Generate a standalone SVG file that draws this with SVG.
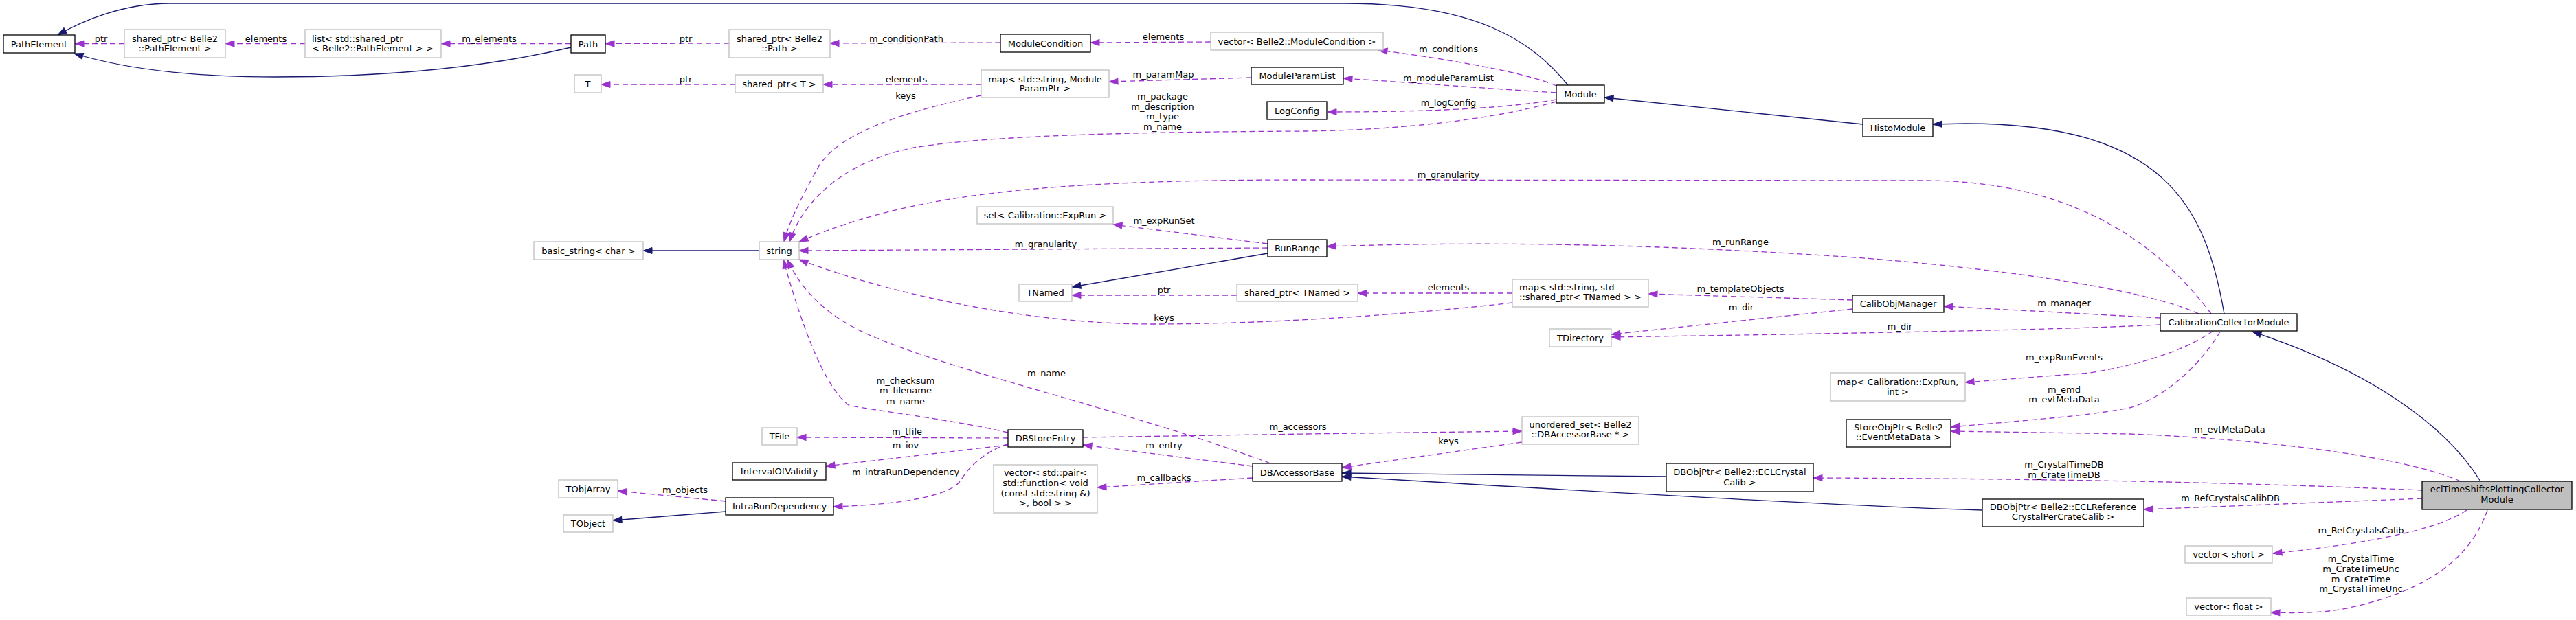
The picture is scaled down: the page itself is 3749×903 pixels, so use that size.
<svg xmlns="http://www.w3.org/2000/svg" width="3749" height="903" viewBox="0 0 3749 903">
<style>
.n rect{fill:#fff;stroke:#000;stroke-width:1.3}
.u rect{stroke:#bfbfbf}
.f rect{fill:#bfbfbf}
text{font-family:"DejaVu Sans","Liberation Sans",sans-serif;font-size:13px;fill:#000;text-anchor:middle}
text.l{text-anchor:start}
.e{fill:none;stroke:#9a32cd;stroke-width:1.3;stroke-dasharray:8,5;marker-end:url(#ap)}
.i{fill:none;stroke:#191970;stroke-width:1.3;marker-end:url(#ab)}
</style>
<defs>
<marker id="ap" markerUnits="userSpaceOnUse" markerWidth="15" markerHeight="11" refX="13" refY="4.5" orient="auto" overflow="visible"><path d="M0,0 L13,4.5 L0,9 z" fill="#9a32cd" stroke="#9a32cd" stroke-width="1" stroke-dasharray="none"/></marker>
<marker id="ab" markerUnits="userSpaceOnUse" markerWidth="15" markerHeight="11" refX="13" refY="4.5" orient="auto" overflow="visible"><path d="M0,0 L13,4.5 L0,9 z" fill="#191970" stroke="#191970" stroke-width="1" stroke-dasharray="none"/></marker>
</defs>
<rect width="3749" height="903" fill="#fff"/>
<g id="connectors">
<path class="e" d="M181,63.5 L109,63.5"/>
<path class="e" d="M444,63.5 L328,63.5"/>
<path class="e" d="M831,63.5 L642,63.5"/>
<path class="e" d="M1061,63 L881,63.5"/>
<path class="e" d="M1456,62 L1208,63"/>
<path class="e" d="M1762,61 L1587,62"/>
<path class="e" d="M2265,125 C2220,105 2100,85 2006,73"/>
<path class="e" d="M2265,135 C2150,128 2050,120 1955,114"/>
<path class="e" d="M2265,145 C2180,160 2050,163 1932,163"/>
<path class="e" d="M2265,148 C2150,180 2000,190 1900,191 C1700,192 1450,195 1330,215 C1230,235 1170,290 1149,352"/>
<path class="e" d="M1428,139 C1330,160 1220,190 1190,245 C1165,290 1150,320 1141,352"/>
<path class="e" d="M1070,123 L875,123"/>
<path class="e" d="M1428,123 L1198,123"/>
<path class="e" d="M1821,113 L1614,119"/>
<path class="e" d="M3218,457 C3130,340 3000,263 2800,263 L1900,262 C1500,262 1320,285 1163,352"/>
<path class="e" d="M3200,457 C3120,420 2900,390 2700,375 C2450,358 2200,350 1931,359"/>
<path class="e" d="M1845,355 L1620,327"/>
<path class="e" d="M1845,361 L1163,365"/>
<path class="e" d="M1800,430 L1560,430"/>
<path class="e" d="M2201,427 L1976,427"/>
<path class="e" d="M2201,441 C2050,458 1850,472 1677,472 C1500,472 1300,430 1163,378"/>
<path class="e" d="M2696,437 L2399,428"/>
<path class="e" d="M2696,450 L2345,487"/>
<path class="e" d="M3144,473 C3000,480 2800,483 2600,487 L2345,491"/>
<path class="e" d="M3144,463 L2829,446"/>
<path class="e" d="M3221,482 C3180,510 3120,530 3042,543 L2860,557"/>
<path class="e" d="M3231,483 C3210,520 3160,575 3103,593 C3050,605 2950,612 2839,622"/>
<path class="e" d="M3581,701 C3500,665 3300,640 3100,632 L2839,628"/>
<path class="e" d="M3525,714 C3200,700 2900,697 2639,696"/>
<path class="e" d="M3525,726 L3120,742"/>
<path class="e" d="M3590,743 C3550,770 3460,790 3308,806"/>
<path class="e" d="M3620,743 C3600,800 3550,860 3405,888 C3370,893 3340,893 3305,892"/>
<path class="e" d="M1849,675 C1650,600 1400,545 1270,490 C1200,460 1165,420 1146,378"/>
<path class="e" d="M1467,630 C1380,610 1270,598 1235,590 C1195,560 1160,450 1140,378"/>
<path class="e" d="M1467,638 L1160,637"/>
<path class="e" d="M1467,648 L1202,679"/>
<path class="e" d="M1467,646 C1430,660 1410,680 1398,700 C1380,725 1300,735 1213,738"/>
<path class="e" d="M1056,730 L899,715"/>
<path class="e" d="M1823,679 L1576,648"/>
<path class="e" d="M1823,696 L1597,710"/>
<path class="e" d="M1576,637 L1900,632 L2215,628"/>
<path class="e" d="M2215,644 L1953,681"/>
<path class="i" d="M831,69 C700,100 550,112 400,112 C280,112 180,100 108,78"/>
<path class="i" d="M2282,124 C2230,60 2150,5 1957,5 L247,5 C180,5 120,30 84,51"/>
<path class="i" d="M2711,181 L2335,142"/>
<path class="i" d="M3237,457 C3210,300 3150,180 2860,180 L2813,181"/>
<path class="i" d="M3610,701 C3560,620 3450,540 3278,483"/>
<path class="i" d="M1105,365 L936,365"/>
<path class="i" d="M1845,369 L1560,418"/>
<path class="i" d="M1056,745 L892,758"/>
<path class="i" d="M2425,694 L1953,689"/>
<path class="i" d="M2885,743 C2700,738 2300,715 1953,694"/>
<g id="edge-labels">
<text x="147" y="60.6">ptr</text>
<text x="387" y="60.6">elements</text>
<text x="712" y="60.6">m_elements</text>
<text x="998" y="60.6">ptr</text>
<text x="1319" y="60.6">m_conditionPath</text>
<text x="1693" y="57.6">elements</text>
<text x="2108" y="75.6">m_conditions</text>
<text x="2108" y="117.6">m_moduleParamList</text>
<text x="2108" y="153.6">m_logConfig</text>
<text x="1692" y="144.6">m_package</text>
<text x="1692" y="159.6">m_description</text>
<text x="1692" y="173.6">m_type</text>
<text x="1692" y="188.6">m_name</text>
<text x="1318" y="143.6">keys</text>
<text x="998" y="119.6">ptr</text>
<text x="1319" y="119.6">elements</text>
<text x="1693" y="112.6">m_paramMap</text>
<text x="2108" y="258.6">m_granularity</text>
<text x="2533" y="356.6">m_runRange</text>
<text x="1694" y="325.6">m_expRunSet</text>
<text x="1522" y="359.6">m_granularity</text>
<text x="1694" y="426.6">ptr</text>
<text x="2108" y="422.6">elements</text>
<text x="1694" y="466.6">keys</text>
<text x="2533" y="424.6">m_templateObjects</text>
<text x="2534" y="451.6">m_dir</text>
<text x="2765" y="479.6">m_dir</text>
<text x="3004" y="445.6">m_manager</text>
<text x="3004" y="524.6">m_expRunEvents</text>
<text x="3004" y="571.6">m_emd</text>
<text x="3004" y="585.6">m_evtMetaData</text>
<text x="3245" y="629.6">m_evtMetaData</text>
<text x="3004" y="680.6">m_CrystalTimeDB</text>
<text x="3004" y="695.6">m_CrateTimeDB</text>
<text x="3246" y="729.6">m_RefCrystalsCalibDB</text>
<text x="3436" y="776.6">m_RefCrystalsCalib</text>
<text x="3436" y="817.6">m_CrystalTime</text>
<text x="3436" y="832.6">m_CrateTimeUnc</text>
<text x="3436" y="847.6">m_CrateTime</text>
<text x="3436" y="861.6">m_CrystalTimeUnc</text>
<text x="1523" y="547.6">m_name</text>
<text x="1318" y="558.6">m_checksum</text>
<text x="1318" y="572.6">m_filename</text>
<text x="1318" y="588.6">m_name</text>
<text x="1320" y="632.6">m_tfile</text>
<text x="1318" y="652.6">m_iov</text>
<text x="1318" y="691.6">m_intraRunDependency</text>
<text x="997" y="717.6">m_objects</text>
<text x="1694" y="652.6">m_entry</text>
<text x="1694" y="699.6">m_callbacks</text>
<text x="1889" y="625.6">m_accessors</text>
<text x="2108" y="646.6">keys</text>
</g>
</g>
<g id="PathElement" class="n"><rect x="5" y="51" width="104" height="26"/><text x="57" y="68.5">PathElement</text></g>
<g id="shared_ptr_PathElement" class="n u"><rect x="181" y="43" width="147" height="41"/><text x="254.5" y="60.5">shared_ptr&lt; Belle2</text><text x="254.5" y="75">::PathElement &gt;</text></g>
<g id="list_shared_ptr" class="n u"><rect x="444" y="43" width="198" height="41"/><text class="l" x="454" y="60.5">list&lt; std::shared_ptr</text><text class="l" x="454" y="75">&lt; Belle2::PathElement &gt; &gt;</text></g>
<g id="Path" class="n"><rect x="831" y="51" width="50" height="26"/><text x="856" y="68.5">Path</text></g>
<g id="T" class="n u"><rect x="836" y="109" width="39" height="26"/><text x="855.5" y="126.5">T</text></g>
<g id="shared_ptr_Path" class="n u"><rect x="1061" y="43" width="147" height="41"/><text x="1134.5" y="60.5">shared_ptr&lt; Belle2</text><text x="1134.5" y="75">::Path &gt;</text></g>
<g id="shared_ptr_T" class="n u"><rect x="1070" y="109" width="128" height="26"/><text x="1134" y="126.5">shared_ptr&lt; T &gt;</text></g>
<g id="ModuleCondition" class="n"><rect x="1456" y="50" width="131" height="26"/><text x="1521.5" y="67.5">ModuleCondition</text></g>
<g id="map_ModuleParamPtr" class="n u"><rect x="1428" y="102" width="186" height="40"/><text x="1521" y="119.5">map&lt; std::string, Module</text><text x="1521" y="133">ParamPtr &gt;</text></g>
<g id="vector_ModuleCondition" class="n u"><rect x="1762" y="47" width="251" height="26"/><text x="1887.5" y="64.5">vector&lt; Belle2::ModuleCondition &gt;</text></g>
<g id="ModuleParamList" class="n"><rect x="1821" y="98" width="134" height="25"/><text x="1888" y="115">ModuleParamList</text></g>
<g id="LogConfig" class="n"><rect x="1844" y="148" width="87" height="26"/><text x="1887.5" y="165.5">LogConfig</text></g>
<g id="Module" class="n"><rect x="2265" y="124" width="70" height="26"/><text x="2300" y="141.5">Module</text></g>
<g id="HistoModule" class="n"><rect x="2711" y="173" width="102" height="26"/><text x="2762" y="190.5">HistoModule</text></g>
<g id="basic_string" class="n u"><rect x="777" y="352" width="159" height="26"/><text x="856.5" y="369.5">basic_string&lt; char &gt;</text></g>
<g id="string" class="n u"><rect x="1105" y="352" width="58" height="26"/><text x="1134" y="369.5">string</text></g>
<g id="set_ExpRun" class="n u"><rect x="1422" y="301" width="198" height="25"/><text x="1521" y="318">set&lt; Calibration::ExpRun &gt;</text></g>
<g id="RunRange" class="n"><rect x="1845" y="349" width="86" height="25"/><text x="1888" y="366">RunRange</text></g>
<g id="TNamed" class="n u"><rect x="1483" y="414" width="77" height="25"/><text x="1521.5" y="431">TNamed</text></g>
<g id="shared_ptr_TNamed" class="n u"><rect x="1800" y="414" width="176" height="25"/><text x="1888" y="431">shared_ptr&lt; TNamed &gt;</text></g>
<g id="map_TNamed" class="n u"><rect x="2201" y="407" width="198" height="40"/><text class="l" x="2211" y="423">map&lt; std::string, std</text><text class="l" x="2211" y="436.5">::shared_ptr&lt; TNamed &gt; &gt;</text></g>
<g id="CalibObjManager" class="n"><rect x="2696" y="430" width="133" height="25"/><text x="2762.5" y="447">CalibObjManager</text></g>
<g id="TDirectory" class="n u"><rect x="2255" y="479" width="90" height="26"/><text x="2300" y="496.5">TDirectory</text></g>
<g id="CalibrationCollectorModule" class="n"><rect x="3144" y="457" width="199" height="25"/><text x="3243.5" y="474">CalibrationCollectorModule</text></g>
<g id="map_ExpRun_int" class="n u"><rect x="2664" y="543" width="196" height="41"/><text x="2762" y="560.5">map&lt; Calibration::ExpRun,</text><text x="2762" y="574.5">int &gt;</text></g>
<g id="StoreObjPtr_EventMetaData" class="n"><rect x="2687" y="611" width="152" height="40"/><text x="2763" y="626.5">StoreObjPtr&lt; Belle2</text><text x="2763" y="641">::EventMetaData &gt;</text></g>
<g id="unordered_set_DBAccessorBase" class="n u"><rect x="2215" y="607" width="170" height="40"/><text x="2300" y="623">unordered_set&lt; Belle2</text><text x="2300" y="637">::DBAccessorBase * &gt;</text></g>
<g id="DBStoreEntry" class="n"><rect x="1467" y="626" width="109" height="25"/><text x="1521.5" y="643">DBStoreEntry</text></g>
<g id="TFile" class="n u"><rect x="1109" y="623" width="51" height="25"/><text x="1134.5" y="640">TFile</text></g>
<g id="IntervalOfValidity" class="n"><rect x="1066" y="674" width="136" height="25"/><text x="1134" y="691">IntervalOfValidity</text></g>
<g id="IntraRunDependency" class="n"><rect x="1056" y="725" width="157" height="25"/><text x="1134.5" y="742">IntraRunDependency</text></g>
<g id="TObjArray" class="n u"><rect x="813" y="699" width="86" height="26"/><text x="856" y="716.5">TObjArray</text></g>
<g id="TObject" class="n u"><rect x="820" y="750" width="72" height="25"/><text x="856" y="767">TObject</text></g>
<g id="vector_pair_function" class="n u"><rect x="1446" y="677" width="151" height="70"/><text x="1521.5" y="692.5">vector&lt; std::pair&lt;</text><text x="1521.5" y="707.5">std::function&lt; void</text><text x="1521.5" y="722.5">(const std::string &amp;)</text><text x="1521.5" y="737">&gt;, bool &gt; &gt;</text></g>
<g id="DBAccessorBase" class="n"><rect x="1823" y="675" width="130" height="26"/><text x="1888" y="692.5">DBAccessorBase</text></g>
<g id="DBObjPtr_ECLCrystalCalib" class="n"><rect x="2425" y="675" width="214" height="41"/><text x="2532" y="691.5">DBObjPtr&lt; Belle2::ECLCrystal</text><text x="2532" y="706.5">Calib &gt;</text></g>
<g id="DBObjPtr_ECLReferenceCrystalPerCrateCalib" class="n"><rect x="2885" y="727" width="235" height="40"/><text x="3002.5" y="742.5">DBObjPtr&lt; Belle2::ECLReference</text><text x="3002.5" y="756.5">CrystalPerCrateCalib &gt;</text></g>
<g id="eclTimeShiftsPlottingCollectorModule" class="n f"><rect x="3525" y="701" width="218" height="41"/><text x="3634" y="717">eclTimeShiftsPlottingCollector</text><text x="3634" y="732">Module</text></g>
<g id="vector_short" class="n u"><rect x="3180" y="795" width="127" height="25"/><text x="3243.5" y="812">vector&lt; short &gt;</text></g>
<g id="vector_float" class="n u"><rect x="3182" y="871" width="123" height="25"/><text x="3243.5" y="888">vector&lt; float &gt;</text></g>
</svg>
